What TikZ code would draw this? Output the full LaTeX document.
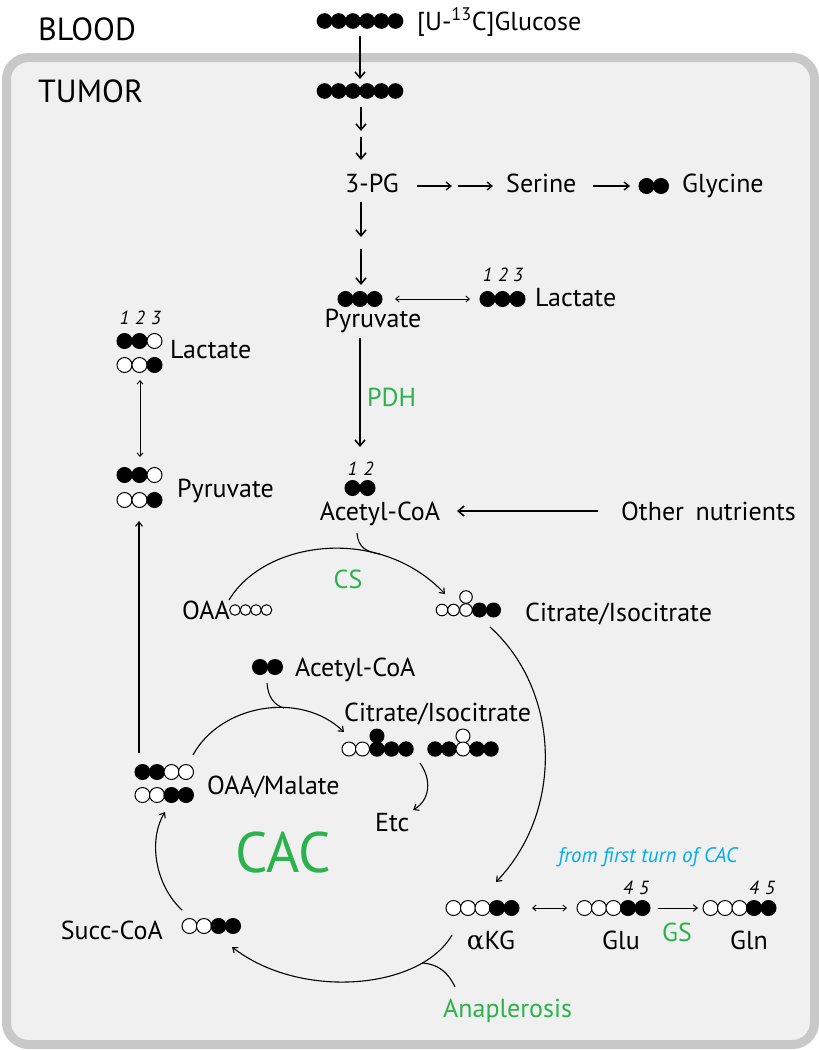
\documentclass[tikz,border=0pt]{standalone}
\usepackage{fontspec}
\setmainfont{PT Sans}
\newfontfamily\greekf{DejaVu Serif}
\usetikzlibrary{arrows.meta}
\definecolor{cgreen}{RGB}{43,178,76}
\definecolor{cblue}{RGB}{0,174,239}
\definecolor{tumorbg}{RGB}{240,240,240}
\definecolor{tumorline}{RGB}{200,200,200}
\newcommand{\mol}[5]{\foreach \c [count=\i from 0] in {#5}{\filldraw[fill=\c,draw=black,line width=1pt] ({#1+\i*#3},#2) circle (#4pt);}}
\tikzset{
  lbl/.style={font=\fontsize{26}{30}\selectfont, inner sep=0pt, text height=18pt, text depth=0pt, anchor=west},
  bigl/.style={font=\fontsize{32}{34}\selectfont, inner sep=0pt, text height=22pt, text depth=0pt, anchor=west},
  num/.style={font=\fontsize{19}{20}\selectfont\itshape, inner sep=0pt, text height=13pt, text depth=0pt},
  cacl/.style={font=\fontsize{57}{60}\selectfont, inner sep=0pt, text height=40pt, text depth=0pt, anchor=west, text=cgreen},
  bluel/.style={font=\fontsize{21}{24}\selectfont\itshape, inner sep=0pt, text height=15pt, text depth=0pt, text=cblue},
  arr/.style={line width=1.5pt, -{Straight Barb[length=6pt,width=10pt]}},
  marr/.style={line width=1.3pt, -{Straight Barb[length=5pt,width=8pt]}},
  varr/.style={line width=1.1pt, -{Straight Barb[length=4.5pt,width=7pt]}},
  darr/.style={line width=0.9pt, {Straight Barb[length=3.5pt,width=6pt]}-{Straight Barb[length=3.5pt,width=6pt]}},
  sarr/.style={line width=1pt, -{Straight Barb[length=4pt,width=6.5pt]}},
  carr/.style={line width=1.1pt, -{Straight Barb[length=4.5pt,width=7pt]}},
  crv/.style={line width=1.1pt}
}
\begin{document}
\begin{tikzpicture}[x=1pt,y=-1pt]
\fill[white] (0,0) rectangle (819,1050);
\useasboundingbox (0,0) rectangle (819,1050);
\draw[line width=9pt, draw=tumorline, fill=tumorbg, rounded corners=22pt] (6.5,57.5) rectangle (814.5,1044.5);

% titles
\node[bigl] (blood) at (38,29) {BLOOD};
\node[bigl] (tumor) at (38,91) {TUMOR};

% glucose
\mol{324.5}{21}{14.2}{7.3}{black,black,black,black,black,black}
\node[lbl] (glclbl) at (417,21) {[U-\textsuperscript{13}C]Glucose};
\mol{324.5}{91}{14.2}{7.3}{black,black,black,black,black,black}
\coordinate (a1s) at (360,36); \coordinate (a1e) at (360,79);
\draw[arr] (a1s) -- (a1e);
\coordinate (a2s) at (361,107); \coordinate (a2e) at (361,131);
\coordinate (a3s) at (361,137); \coordinate (a3e) at (361,160);
\draw[arr] (a2s) -- (a2e);
\draw[arr] (a3s) -- (a3e);
\node[lbl,anchor=center] (pg) at (372,183) {3-PG};
\coordinate (a4s) at (361,202); \coordinate (a4e) at (361,237);
\coordinate (a5s) at (361,249); \coordinate (a5e) at (361,285);
\draw[arr] (a4s) -- (a4e);
\draw[arr] (a5s) -- (a5e);

% serine / glycine
\coordinate (s1s) at (417,186); \coordinate (s1e) at (452,186);
\coordinate (s2s) at (458,186); \coordinate (s2e) at (493,186);
\draw[marr] (s1s) -- (s1e);
\draw[marr] (s2s) -- (s2e);
\node[lbl] (ser) at (506,183) {Serine};
\coordinate (s3s) at (593,186); \coordinate (s3e) at (630,186);
\draw[marr] (s3s) -- (s3e);
\mol{646.5}{186}{14.5}{7.5}{black,black}
\node[lbl] (gly) at (682,183) {Glycine};

% pyruvate / lactate right
\mol{345.5}{299}{14.5}{7.5}{black,black,black}
\node[lbl,anchor=center] (pyr) at (373,318) {Pyruvate};
\coordinate (l1s) at (395,299); \coordinate (l1e) at (470,299);
\draw[darr] (l1s) -- (l1e);
\mol{487.5}{299}{15}{7.5}{black,black,black}
\node[num] (nr1) at (487.5,275) {1};
\node[num] (nr2) at (503,275) {2};
\node[num] (nr3) at (518,275) {3};
\node[lbl] (lacR) at (535,297) {Lactate};

% PDH
\coordinate (p1s) at (360,338); \coordinate (p1e) at (360,447);
\draw[arr] (p1s) -- (p1e);
\node[lbl,text=cgreen] (pdh) at (367,397) {PDH};

% acetyl-CoA
\node[num] (na1) at (352.5,469) {1};
\node[num] (na2) at (368.5,469) {2};
\mol{352.5}{488}{15}{7.5}{black,black}
\node[lbl,anchor=center] (acoa) at (380,511) {Acetyl-CoA};
\node[lbl] (other) at (621,511) {Other\hspace{0.45em}nutrients};
\coordinate (o1s) at (598,511); \coordinate (o1e) at (457,511);
\draw[arr] (o1s) -- (o1e);

% CS reaction
\node[lbl,anchor=east] (oaa) at (230,610) {OAA};
\mol{235}{610}{10.5}{5.3}{white,white,white,white}
\coordinate (cs1s) at (229,600); \coordinate (cs1e) at (445,594);
\draw[carr] (cs1s) .. controls (265,540) and (380,525) .. (cs1e);
\coordinate (ac1s) at (357,533); \coordinate (ac1e) at (380,554);
\draw[crv] (ac1s) .. controls (358,547) and (366,552) .. (ac1e);
\node[lbl,anchor=center,text=cgreen] (cs) at (348,579) {CS};
\mol{442}{610}{11.5}{5.8}{white,white}
\filldraw[fill=white,draw=black,line width=1pt] (466,597) circle (6.3pt);
\filldraw[fill=white,draw=black,line width=1pt] (466,610) circle (6.3pt);
\mol{479.5}{610}{14}{7}{black,black}
\node[lbl] (cit1) at (525,612) {Citrate/Isocitrate};

% big arc to aKG
\coordinate (b1s) at (490,627); \coordinate (b1e) at (496,882);
\draw[carr] (b1s) .. controls (560,690) and (565,810) .. (b1e);

% inner cycle
\mol{260}{667}{15}{7.5}{black,black}
\node[lbl] (acoa2) at (295,667) {Acetyl-CoA};
\node[lbl] (cit2) at (344,712) {Citrate/Isocitrate};
\coordinate (i1s) at (193,755); \coordinate (i1e) at (344,732);
\draw[carr] (i1s) .. controls (220,705) and (300,690) .. (i1e);
\coordinate (ac2s) at (267,683); \coordinate (ac2e) at (284,708);
\draw[crv] (ac2s) .. controls (268,697) and (274,705) .. (ac2e);
\mol{349}{749}{13.5}{7}{white,white}
\filldraw[fill=black,draw=black,line width=1pt] (377,736) circle (7pt);
\mol{377}{749}{14.5}{7.2}{black,black,black}
\mol{435}{749}{14}{7.2}{black,black}
\mol{477}{749}{14}{7.2}{black,black}
\filldraw[fill=white,draw=black,line width=1pt] (463,736) circle (7pt);
\filldraw[fill=white,draw=black,line width=1pt] (463,749) circle (7pt);
\coordinate (e1s) at (420,763); \coordinate (e1e) at (413,810);
\draw[carr] (e1s) .. controls (432,780) and (430,800) .. (e1e);
\node[lbl] (etc) at (375,822) {Etc};

% OAA/Malate
\mol{142.5}{772}{14.5}{7.5}{black,black,white,white}
\mol{142.5}{795}{14.5}{7.5}{white,white,black,black}
\node[lbl] (oaam) at (207,785) {OAA/Malate};
\coordinate (v1s) at (139,753); \coordinate (v1e) at (139,521);
\draw[varr] (v1s) -- (v1e);

% left pyruvate / lactate
\node[num] (nl1) at (124.5,318) {1};
\node[num] (nl2) at (140,318) {2};
\node[num] (nl3) at (156,318) {3};
\mol{124.5}{341}{15}{7.5}{black,black,white}
\mol{124.5}{365}{15}{7.5}{white,white,black}
\node[lbl] (lacL) at (170,349) {Lactate};
\coordinate (v2s) at (140,457); \coordinate (v2e) at (140,380);
\draw[darr] (v2s) -- (v2e);
\mol{124.5}{475}{15}{7.5}{black,black,white}
\mol{124.5}{500}{15}{7.5}{white,white,black}
\node[lbl] (pyrL) at (177,488) {Pyruvate};

% CAC
\node[cacl] (cac) at (235,852) {CAC};

% Succ-CoA
\node[lbl,anchor=east] (succ) at (163,930) {Succ-CoA};
\mol{189.5}{926}{14.5}{7.5}{white,white,black,black}
\coordinate (u1s) at (182,910); \coordinate (u1e) at (165,812);
\draw[carr] (u1s) .. controls (155,885) and (148,840) .. (u1e);

% aKG, Glu, Gln
\mol{453.5}{908}{14.5}{7.5}{white,white,white,black,black}
\node[lbl,anchor=center] (akg) at (491,940) {{\greekf α}KG};
\coordinate (g1s) at (532,908); \coordinate (g1e) at (567,908);
\draw[darr] (g1s) -- (g1e);
\mol{584.5}{908}{14.5}{7.5}{white,white,white,black,black}
\node[num] (ng4) at (628,888) {4};
\node[num] (ng5) at (644,888) {5};
\node[lbl,anchor=center] (glu) at (621,940) {Glu};
\coordinate (g2s) at (658,908); \coordinate (g2e) at (698,908);
\draw[sarr] (g2s) -- (g2e);
\node[lbl,anchor=center,text=cgreen] (gs) at (677,932) {GS};
\mol{710.5}{908}{14.5}{7.5}{white,white,white,black,black}
\node[num] (nq4) at (754,888) {4};
\node[num] (nq5) at (770,888) {5};
\node[lbl,anchor=center] (gln) at (749,940) {Gln};
\node[bluel] (first) at (648,855) {from first turn of CAC};

% bottom arc and anaplerosis
\coordinate (k1s) at (452,935); \coordinate (k1e) at (232,947);
\draw[carr] (k1s) .. controls (420,990) and (300,1000) .. (k1e);
\coordinate (n1s) at (455,987); \coordinate (n1e) at (422,963);
\draw[crv] (n1s) .. controls (448,972) and (438,964) .. (n1e);
\node[lbl,text=cgreen] (ana) at (443,1008) {Anaplerosis};
\end{tikzpicture}
\end{document}
